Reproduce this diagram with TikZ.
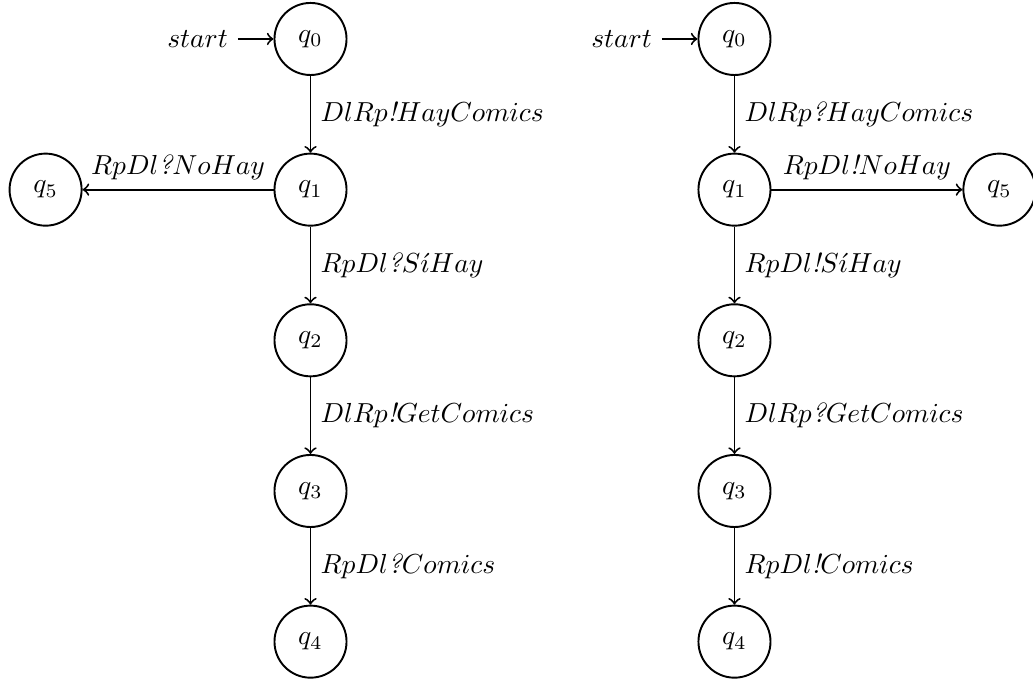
\documentclass[tikz,border=0pt]{standalone}
\usetikzlibrary{automata,positioning,arrows}

\newcommand{\exc}{\textit{!}}
\newcommand{\preg}{\textit{?}}

\begin{document}
\begin{tikzpicture}[
		estado/.style={
			state,
			minimum size=26.2pt,
			inner sep=0pt
		},
		inicio/.style={
			initial,
			initial text=$start$
		},
		node distance=0.98cm and 2.44cm,
		line width=0.7pt,
		>=to
		]
		\useasboundingbox (0,0) rectangle (13.201,-8.703);
		% emisor
		\node[estado,inicio] (l0) at (3.968,-0.498) {$q_0$};
		\foreach \i [count=\j from 0] in {1,...,4}
		\node[estado,below=of l\j] (l\i) {$q_\i$};
		\node[estado,left=of l1] (l5) {$q_5$};
		% receptor
		\node[estado,inicio] (r0) at (9.386,-0.498) {$q_0$};
		\foreach \i [count=\j from 0] in {1,...,4}
		\node[estado,below=of r\j] (r\i) {$q_\i$};
		\node[estado,right=of r1] (r5) {$q_5$};
		\foreach \a/\b/\lab in {0/1/DlRp\exc HayComics,1/2/RpDl\preg S\acute{\imath}Hay,2/3/DlRp\exc GetComics,3/4/RpDl\preg Comics}
		\draw[->] (l\a) -- node[right] {$\lab$} (l\b);
		\draw[->] (l1) -- node[above] {$RpDl\preg NoHay$} (l5);
		\foreach \a/\b/\lab in {0/1/DlRp\preg HayComics,1/2/RpDl\exc S\acute{\imath}Hay,2/3/DlRp\preg GetComics,3/4/RpDl\exc Comics}
		\draw[->] (r\a) -- node[right] {$\lab$} (r\b);
		\draw[->] (r1) -- node[above] {$RpDl\exc NoHay$} (r5);
\end{tikzpicture}
\end{document}
